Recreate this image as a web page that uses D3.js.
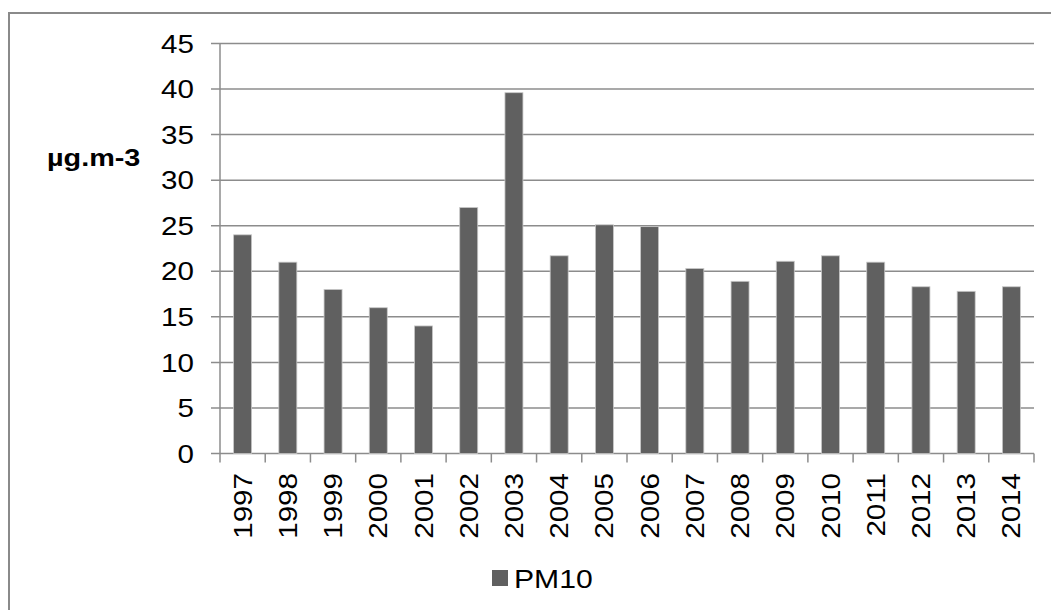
<!DOCTYPE html>
<html><head><meta charset="utf-8">
<script src="https://cdn.jsdelivr.net/npm/d3@7"></script>
<style>body{margin:0;background:#fff}svg{display:block;font-family:"Liberation Sans",Arial,sans-serif}</style>
</head><body>
<svg id="c" width="1051" height="610"></svg>
<script>
const years = ["1997","1998","1999","2000","2001","2002","2003","2004","2005","2006","2007","2008","2009","2010","2011","2012","2013","2014"];
const pm10 = [24,21,18,16,14,27,39.6,21.7,25.1,24.9,20.3,18.9,21.1,21.7,21.0,18.3,17.8,18.3];
const yTicks = [0,5,10,15,20,25,30,35,40,45];
const seriesName = "PM10";
const yLabel = "µg.m-3";

const svg = d3.select("#c");
const pLeft = 220, pRight = 1034, pTop = 43.5, pBottom = 453.5;
const SX = 1.16;
const xb = d3.scaleBand().domain(years).range([pLeft, pRight]);
const y = d3.scaleLinear().domain([0, 45]).range([pBottom, pTop]);

// outer frame
svg.append("rect").attr("x",9).attr("y",13).attr("width",1100).attr("height",700)
  .attr("fill","none").attr("stroke","#8a8a8a").attr("stroke-width",2);

// gridlines
svg.append("g").selectAll("line").data(yTicks).join("line")
  .attr("x1", pLeft-9).attr("x2", pRight).attr("y1", d=>y(d)).attr("y2", d=>y(d))
  .attr("stroke","#8c8c8c").attr("stroke-width",1.5);

// y axis line
svg.append("line").attr("x1",pLeft).attr("x2",pLeft).attr("y1",pTop).attr("y2",pBottom)
  .attr("stroke","#8c8c8c").attr("stroke-width",1.5);

// x ticks
const xTickPos = years.map(d=>xb(d)).concat([pRight]);
svg.append("g").selectAll("line").data(xTickPos).join("line")
  .attr("x1", d=>d).attr("x2", d=>d).attr("y1", pBottom).attr("y2", pBottom+9)
  .attr("stroke","#8c8c8c").attr("stroke-width",1.5);

// bars
svg.append("g").selectAll("rect").data(pm10).join("rect")
  .attr("x", (d,i)=>xb(years[i]) + xb.bandwidth()/2 - 9)
  .attr("width", 18)
  .attr("y", d=>y(d)).attr("height", d=>pBottom - y(d))
  .attr("fill","#606060").attr("stroke","#c8c8c8").attr("stroke-width",0.8);

// y tick labels
svg.append("g").selectAll("text").data(yTicks).join("text")
  .attr("transform", d=>`translate(194,${y(d)}) scale(${SX},1)`)
  .attr("dy","0.36em").attr("text-anchor","end")
  .attr("font-size",25.5).attr("fill","#000").text(d=>d);

// x tick labels
svg.append("g").selectAll("text").data(years).join("text")
  .attr("transform", d=>`translate(${xb(d)+xb.bandwidth()/2+9},473) rotate(-90) scale(${SX},1)`)
  .attr("text-anchor","end").attr("font-size",25.5).attr("fill","#000").text(d=>d);

// y label
svg.append("text").attr("transform","translate(47,166) scale(1.2,1)").attr("font-size",24).attr("font-weight","bold")
  .attr("fill","#000").text(yLabel);

// legend
svg.append("rect").attr("x",492).attr("y",570).attr("width",16).attr("height",16).attr("fill","#606060");
svg.append("text").attr("transform",`translate(514,588) scale(${SX},1)`).attr("font-size",26).attr("fill","#000").text(seriesName);
</script>
</body></html>
